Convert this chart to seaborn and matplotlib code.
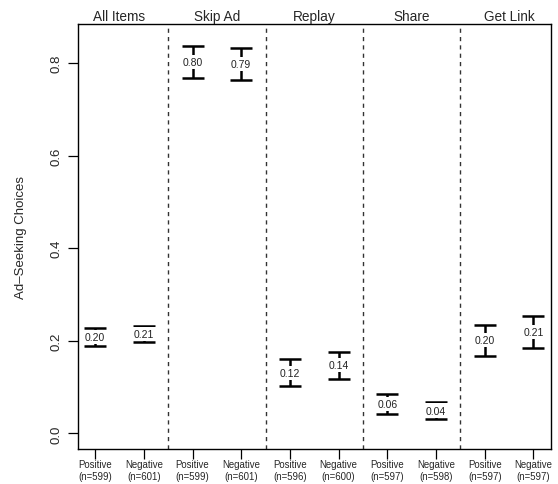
import matplotlib
matplotlib.use("Agg")
import matplotlib.pyplot as plt
import matplotlib.transforms as mtransforms
import seaborn as sns
import numpy as np
import pandas as pd

sns.set_style("ticks")
plt.rcParams["font.family"] = ["Liberation Sans", "DejaVu Sans"]

# Ad-seeking choice proportions by item type and valence
panels = ["All Items", "Skip Ad", "Replay", "Share", "Get Link"]
conditions = ["Positive", "Negative"]
n_obs = [599, 601, 599, 601, 596, 600, 597, 598, 597, 597]
means = [0.20, 0.21, 0.80, 0.79, 0.12, 0.14, 0.06, 0.04, 0.20, 0.21]
ci_low = [0.189, 0.197, 0.768, 0.763, 0.102, 0.118, 0.042, 0.030, 0.168, 0.185]
ci_high = [0.228, 0.233, 0.836, 0.832, 0.160, 0.176, 0.084, 0.068, 0.235, 0.254]

df = pd.DataFrame({
    "panel": np.repeat(panels, 2),
    "condition": conditions * len(panels),
    "n": n_obs,
    "mean": means,
    "low": ci_low,
    "high": ci_high,
})
df["pos"] = np.arange(1, len(df) + 1)
df["mid"] = (df["low"] + df["high"]) / 2

fig = plt.figure(figsize=(5.58, 4.85), dpi=100)
ax = fig.add_axes([0.139, 0.072, 0.8485, 0.876])

ax.errorbar(df["pos"], df["mid"],
            yerr=[df["mid"] - df["low"], df["high"] - df["mid"]],
            fmt="none", ecolor="black", elinewidth=1.8, capsize=8, capthick=1.8)

for _, r in df.iterrows():
    ax.text(r["pos"], r["mid"], f"{r['mean']:.2f}", ha="center", va="center",
            fontsize=7.5, color="#222222",
            bbox=dict(facecolor="white", edgecolor="none", pad=1.6))

for sep in [2.5, 4.5, 6.5, 8.5]:
    ax.axvline(sep, color="#333333", linestyle=(0, (3, 3)), linewidth=1.0)

title_tr = ax.get_xaxis_transform() + mtransforms.ScaledTranslation(0, 8 / 100, fig.dpi_scale_trans)
for i, name in enumerate(panels):
    ax.text(1.5 + 2 * i, 1.0, name, transform=title_tr,
            ha="center", va="center", fontsize=9.8)

ax.set_xlim(0.64, 10.36)
ax.set_ylim(-0.034, 0.884)
ax.set_xticks(df["pos"])
ax.set_xticklabels([f"{c}\n(n={n})" for c, n in zip(df["condition"], df["n"])],
                   fontsize=6.9, linespacing=1.3)
yt = [0.0, 0.2, 0.4, 0.6, 0.8]
ax.set_yticks(yt)
ax.set_yticklabels([f"{v:.1f}" for v in yt], rotation=90, va="center", fontsize=9.5)
ax.tick_params(axis="both", length=7, width=0.9, color="black", direction="out")
ax.tick_params(axis="x", pad=0)
ax.tick_params(axis="y", pad=4)
ax.set_ylabel("Ad\u2013Seeking Choices", fontsize=9.5, labelpad=17)
ax.set_xlabel("")
for s in ax.spines.values():
    s.set_visible(True)
    s.set_linewidth(1.0)
    s.set_color("black")
ax.grid(False)

fig.savefig("out.png", dpi=100)
